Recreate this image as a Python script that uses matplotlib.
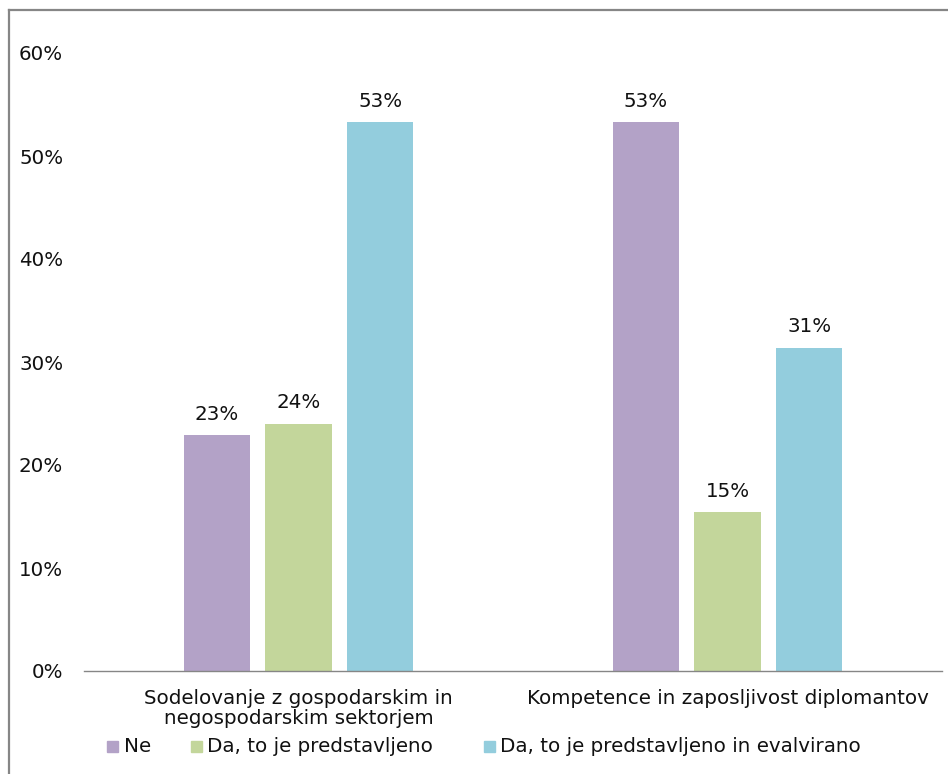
import matplotlib
matplotlib.use("Agg")
import matplotlib.pyplot as plt
from matplotlib.lines import Line2D
import numpy as np

categories = ["Sodelovanje z gospodarskim in\nnegospodarskim sektorjem",
              "Kompetence in zaposljivost diplomantov"]
series_names = ["Ne", "Da, to je predstavljeno", "Da, to je predstavljeno in evalvirano"]
ne = [22.9, 53.3]
predstavljeno = [24.0, 15.4]
evalvirano = [53.3, 31.4]
labels_ne = ["23%", "53%"]
labels_pred = ["24%", "15%"]
labels_eval = ["53%", "31%"]
yticks = [0, 10, 20, 30, 40, 50, 60]
colors = ["#B3A2C7", "#C3D69B", "#93CDDD"]

plt.rcParams['font.family'] = ['DejaVu Sans']
FS = 14.3
TC = "#111111"
W, H = 948, 774
fig = plt.figure(figsize=(W / 100, H / 100), dpi=100)
ax = fig.add_axes([84 / W, (H - 671) / H, (942 - 84) / W, (671 - 53) / H])

x = np.arange(len(categories))
bw = 0.154
step = 0.191
series = [ne, predstavljeno, evalvirano]
lbls = [labels_ne, labels_pred, labels_eval]
for i, (vals, lab, c) in enumerate(zip(series, lbls, colors)):
    bars = ax.bar(x + (i - 1) * step, vals, width=bw, color=c, label=series_names[i])
    for b, t in zip(bars, lab):
        ax.text(b.get_x() + b.get_width() / 2, b.get_height() + 1.1, t,
                ha="center", va="bottom", fontsize=FS, color=TC)

ax.set_xlim(-0.5, 1.5)
ax.set_ylim(0, 60)
ax.set_yticks(yticks)
ax.set_yticklabels([f"{v}%" for v in yticks], fontsize=FS, color=TC)
ax.set_xticks(x)
ax.set_xticklabels(categories, fontsize=FS, color=TC, linespacing=1.08)
ax.tick_params(axis="y", length=0, pad=15)
ax.tick_params(axis="x", length=0, pad=13)
for s in ["top", "right", "left"]:
    ax.spines[s].set_visible(False)
ax.spines["bottom"].set_color("#868686")
ax.spines["bottom"].set_linewidth(1.0)

# legend
leg_sq = [107, 191, 484]
leg_tx = [124, 207, 500]
for xs, xt, name, c in zip(leg_sq, leg_tx, series_names, colors):
    fig.patches.append(plt.Rectangle((xs / W, (H - 752) / H), 11 / W, 11 / H,
                                     transform=fig.transFigure, color=c))
    fig.text(xt / W, (H - 746) / H, name, fontsize=FS, va="center",
             ha="left", color=TC)

# frame lines (top and left)
fig.add_artist(Line2D([8.5 / W, 1], [(H - 9.5) / H, (H - 9.5) / H],
                      transform=fig.transFigure, color="#868686", lw=1.6))
fig.add_artist(Line2D([8.5 / W, 8.5 / W], [0, (H - 9.5) / H],
                      transform=fig.transFigure, color="#868686", lw=1.6))

fig.savefig("out.png", dpi=100)
